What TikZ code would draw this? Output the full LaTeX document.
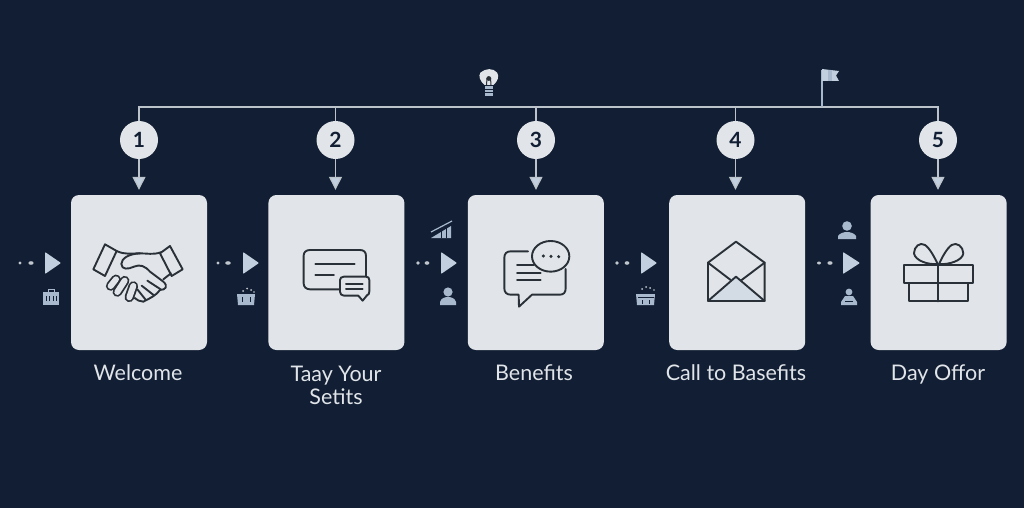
\documentclass[tikz,border=0pt]{standalone}
\usepackage{fontspec}
\setmainfont{Lato}
\usepackage{tikz}
\usetikzlibrary{arrows.meta, positioning, calc}

\definecolor{bgnavy}{HTML}{111E33}
\definecolor{cardgrey}{HTML}{E1E5E9}
\definecolor{inkdark}{HTML}{2A3038}
\definecolor{tipblue}{HTML}{C2CFDE}
\definecolor{minislate}{HTML}{A9B9CD}
\definecolor{busline}{HTML}{BCC3CB}

\begin{document}
\begin{tikzpicture}[
        x=1pt, y=-1pt,
        card/.style={rectangle, fill=cardgrey, rounded corners=8pt, minimum width=136pt, minimum height=155pt, inner sep=0pt},
        badge/.style={circle, fill=cardgrey, minimum size=38pt, inner sep=0pt, text=bgnavy, font=\fontsize{21}{21}\selectfont\bfseries},
        caption/.style={align=center, text=cardgrey, font=\fontsize{21.5}{23}\selectfont},
        bus/.style={draw=busline, line width=1.3pt},
        drop/.style={bus, -{Triangle[width=13pt, length=13pt, fill=tipblue]}, shorten >=5pt},
        icon/.style={draw=inkdark, line width=1.9pt, line join=round, line cap=round},
        finger/.style={draw=inkdark, line width=1.8pt, double=cardgrey, double distance=6pt, line cap=round},
        flowtip/.style={fill=tipblue, rounded corners=0.8pt},
        mini/.style={fill=minislate},
        speck/.style={fill=cardgrey!85!bgnavy},
        zoomed/.style={shift={(#1)}, x=0.3333pt, y=-0.3333pt}
    ]
        \useasboundingbox[fill=bgnavy] (0,0) rectangle (1024,508);

        % Step cards
        \node[card] (welcome) at (139,272.5) {};
        \node[card, right=61pt of welcome] (settings) {};
        \node[card, right=63pt of settings] (benefits) {};
        \node[card, right=65pt of benefits] (call) {};
        \node[card, right=65pt of call] (offer) {};

        % Badges
        \node[badge] (b1) at (139,140) {1};
        \node[badge] (b2) at (335.5,140) {2};
        \node[badge] (b3) at (536,140) {3};
        \node[badge] (b4) at (735.5,140) {4};
        \node[badge] (b5) at (938,140) {5};

        % Top bus
        \coordinate (bus1) at (139,107);
        \coordinate (bus2) at (335.5,107);
        \coordinate (bus3) at (536,107);
        \coordinate (bus4) at (735.5,107);
        \coordinate (bus5) at (938,107);
        \coordinate (flagfoot) at (822,107);
        \coordinate (flagtop) at (822,70);
        \draw[bus] (b1) -- (bus1) -- (bus5) -- (b5);
        \draw[bus] (bus2) -- (b2);
        \draw[bus] (bus3) -- (b3);
        \draw[bus] (bus4) -- (b4);
        \draw[bus, draw=minislate] (flagfoot) -- (flagtop);

        % Connections
        \draw[drop] (b1) -- (b1 |- welcome.north);
        \draw[drop] (b2) -- (b2 |- settings.north);
        \draw[drop] (b3) -- (b3 |- benefits.north);
        \draw[drop] (b4) -- (b4 |- call.north);
        \draw[drop] (b5) -- (b5 |- offer.north);

        % Captions
        \node[caption, anchor=base] (cap1) at (138,380) {Welcome};
        \node[caption] (cap2) at (336,385) {Taay Your\\Setits};
        \node[caption, anchor=base] (cap3) at (534,380) {Benefits};
        \node[caption, anchor=base] (cap4) at (736,380) {Call to Basefits};
        \node[caption, anchor=base] (cap5) at (938,380) {Day Offor};

        % Flow tips
        \fill[flowtip] (45,252) -- (61,263) -- (45,274) -- cycle;
        \fill[flowtip] (243,252) -- (259,263) -- (243,274) -- cycle;
        \fill[flowtip] (441,252) -- (457,263) -- (441,274) -- cycle;
        \fill[flowtip] (641,252) -- (657,263) -- (641,274) -- cycle;
        \fill[flowtip] (843,252) -- (860,263) -- (843,274) -- cycle;

        % Specks in front of the tips
        \fill[speck] (20,263) circle (1.6pt) (31,263) ellipse (2.6pt and 1.8pt);
        \fill[speck] (218,263) circle (1.6pt) (228,263) ellipse (2.8pt and 1.8pt);
        \fill[speck] (418,263) circle (1.8pt) (427,263) ellipse (2.4pt and 1.8pt);
        \fill[speck] (617,263) circle (1.8pt) (627,263) ellipse (2.4pt and 1.8pt);
        \fill[speck] (819,263) ellipse (2pt and 1.5pt) (830,263) ellipse (2.6pt and 1.8pt);

        % Bulb and flag
        \fill[cardgrey] (480.5,72.5) .. controls (486,68) and (493,68) .. (497,72.5) .. controls (499.5,76) and (498,81) .. (493.5,85) -- (484.5,85) .. controls (480,81) and (478,76) .. (480.5,72.5) -- cycle;
        \fill[minislate] (485,86) rectangle (492.5,96);
        \draw[bgnavy, line width=0.7pt] (485,89) -- (492.5,89) (485,92) -- (492.5,92);
        \draw[inkdark, line width=1pt] (486.5,85) -- (487,78) (491,85) -- (490.5,78);
        \fill[inkdark] (488.8,78.5) circle (2.4pt);
        \fill[tipblue] (822,69) -- (839,71) -- (836,75.5) -- (839,81) -- (822,81) -- cycle;
        \fill[minislate] (828,70) rectangle (832,81);

        % Mini icons between the cards
        \fill[mini] (43,292) rectangle (59,305);
        \draw[minislate, line width=1pt] (48,292) -- (48,289.5) -- (54,289.5) -- (54,292);
        \draw[bgnavy, line width=0.7pt] (46,296) -- (46,301) (49,296) -- (49,301) (53,296) -- (53,301) (56,296) -- (56,301);

        \fill[mini] (237,294) -- (255,294) -- (254,305) -- (238,305) -- cycle;
        \fill[speck] (243,291) circle (1pt) (247,288.5) circle (1pt) (251,290) circle (1pt) (254,292) circle (0.9pt);
        \draw[bgnavy, line width=0.8pt] (242,297) -- (242,302) (250,297) -- (250,302);

        \fill[mini] (431,238) -- (451,226) -- (451,238) -- cycle;
        \draw[minislate, line width=1.2pt] (431,232) -- (452,221);
        \draw[bgnavy, line width=0.7pt] (441,230) -- (441,238) (446,228) -- (446,238);

        \fill[mini] (448,292) circle (4.6pt);
        \fill[mini] (440,305) -- (440,302) .. controls (441,298) and (445,297) .. (448,297) .. controls (451,297) and (455,298) .. (456,302) -- (456,305) -- cycle;

        \fill[mini] (636,294) -- (655,294) -- (654,305) -- (637,305) -- cycle;
        \fill[speck] (642,289) circle (1pt) (646,287) circle (1pt) (650,288) circle (1pt) (654,290) circle (0.9pt);
        \draw[bgnavy, line width=0.8pt] (638,297) -- (654,297) (642,300) -- (642,304) (649,300) -- (649,304);

        \fill[mini] (847,226) circle (4.8pt);
        \fill[mini] (838,239) -- (838,236) .. controls (840,233) and (844,232) .. (847,232) .. controls (850,232) and (854,233) .. (856,236) -- (856,239) -- cycle;

        \fill[mini] (849,292) circle (3.4pt);
        \fill[mini] (841,305) -- (841,302) -- (845,296) -- (853,296) -- (857,302) -- (857,305) -- cycle;
        \draw[bgnavy, line width=0.7pt] (845,301) -- (853,301);

        % Handshake
        \begin{scope}[zoomed={60,190}]
            \draw[icon] (135,163) -- (170,183) -- (135,258) -- (100,238) -- cycle;
            \draw[icon] (330,168) -- (300,190) -- (335,258) -- (368,238) -- cycle;
            \draw[icon] (170,183) .. controls (195,195) and (215,190) .. (240,190) .. controls (260,190) and (280,195) .. (302,187);
            \draw[finger] (168,268) -- (152,288);
            \draw[finger] (194,272) -- (172,306);
            \draw[finger] (220,288) -- (208,322);
            \draw[icon] (240,190) .. controls (205,192) and (185,205) .. (184,222) .. controls (185,240) and (205,238) .. (222,230) .. controls (240,222) and (255,228) .. (270,245) -- (310,275) .. controls (325,288) and (318,300) .. (300,300);
            \draw[icon] (333,250) -- (310,268);
            \draw[icon] (300,300) .. controls (290,315) and (270,325) .. (250,335) .. controls (240,335) and (230,330) .. (224,324);
            \draw[icon] (262,272) -- (302,298) (245,287) -- (282,316) (232,298) -- (256,328);
        \end{scope}

        % Message with small reply
        \begin{scope}[zoomed={60,190}]
            \draw[icon] (838,298) -- (750,298) .. controls (738,298) and (731,290) .. (731,280) -- (731,197) .. controls (731,187) and (738,180) .. (750,180) -- (900,180) .. controls (912,180) and (918,187) .. (918,197) -- (918,258);
            \draw[icon] (766,222) -- (884,222) (766,254) -- (822,254);
            \draw[icon] (852,260) -- (918,260) .. controls (925,260) and (928,264) .. (928,270) -- (928,305) .. controls (928,312) and (925,315) .. (922,315) -- (908,332) -- (895,317) -- (852,317) .. controls (845,317) and (840,312) .. (840,305) -- (840,270) .. controls (840,264) and (845,260) .. (852,260) -- cycle;
            \draw[icon] (858,282) -- (908,282) (858,297) -- (908,297);
        \end{scope}

        % Chat bubbles
        \begin{scope}[zoomed={460,190}]
            \draw[icon] (204,184) -- (152,184) .. controls (140,184) and (133,191) .. (133,203) -- (133,295) .. controls (133,307) and (140,314) .. (152,314) -- (176,314) -- (177,350) -- (216,314) -- (300,314) .. controls (311,314) and (317,307) .. (317,295) -- (317,237);
            \draw[icon] (171,226) -- (222,226) (171,248) -- (242,248) (171,270) -- (242,270);
            \draw[icon] (272,199) ellipse (56 and 46);
            \fill[inkdark] (250,198) circle (1.7pt) (273,199) circle (1.7pt) (296,200) circle (1.7pt);
        \end{scope}

        % Envelope
        \begin{scope}[zoomed={460,190}]
            \fill[tipblue!45!cardgrey] (828,260) -- (744,333) -- (914,333) -- cycle;
            \draw[icon] (744,218) -- (828,155) -- (914,218) -- (914,333) -- (744,333) -- cycle;
            \draw[icon] (744,218) -- (812,270) (914,218) -- (845,270);
            \draw[icon] (744,333) -- (828,260) -- (914,333);
        \end{scope}

        % Gift
        \begin{scope}[zoomed={800,190}]
            \draw[icon] (312,225) rectangle (519,279);
            \draw[icon] (328,279) rectangle (503,334);
            \draw[icon] (415,225) -- (415,334);
            \draw[icon] (413,222) .. controls (385,225) and (345,212) .. (342,190) .. controls (342,170) and (360,155) .. (375,165) .. controls (390,175) and (405,205) .. (413,222) -- cycle;
            \draw[icon] (417,222) .. controls (445,225) and (488,212) .. (490,190) .. controls (490,170) and (470,155) .. (455,165) .. controls (440,175) and (425,205) .. (417,222) -- cycle;
        \end{scope}
    \end{tikzpicture}
\end{document}
